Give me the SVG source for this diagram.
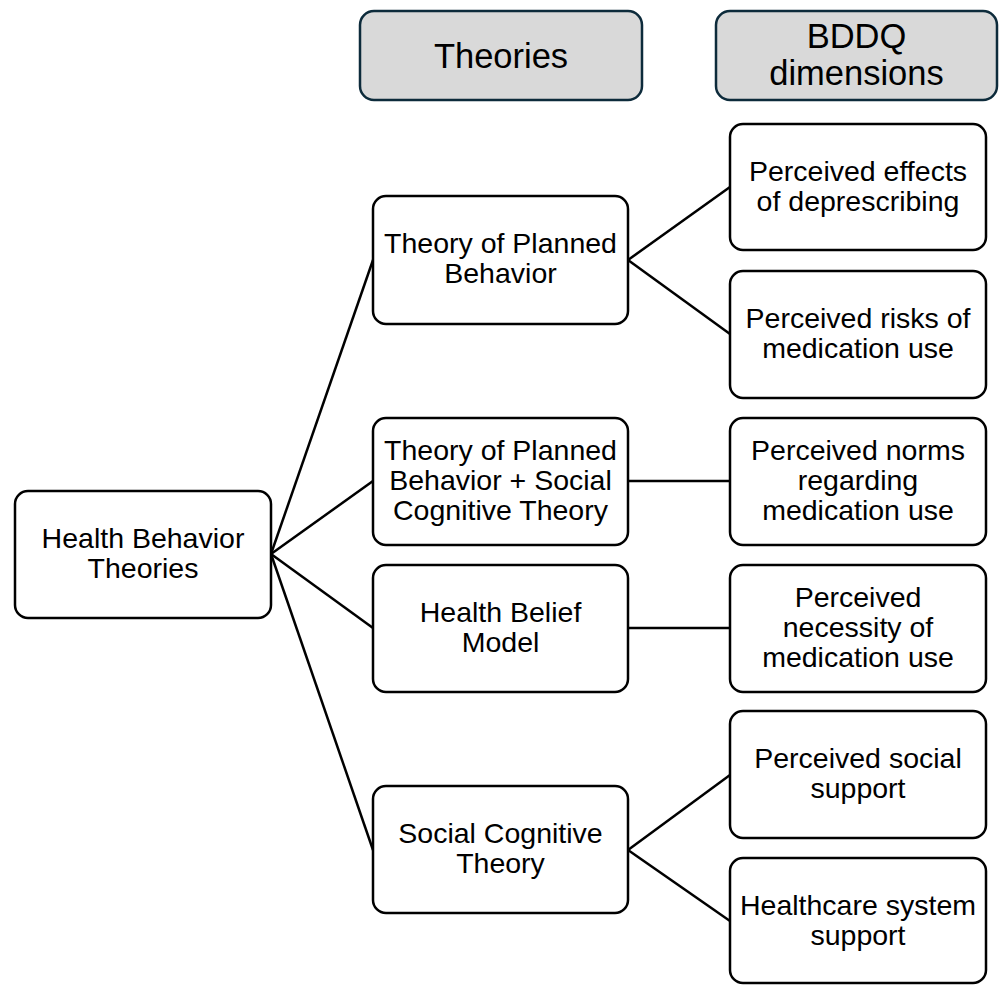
<svg xmlns="http://www.w3.org/2000/svg" width="1000" height="985" viewBox="0 0 1000 985">
<style>
.box{fill:#ffffff;stroke:#000000;stroke-width:2.5}
.hdr{fill:#d9d9d9;stroke:#0d2b3b;stroke-width:2.5}
.t{font-family:"Liberation Sans",Arial,sans-serif;font-size:28.5px;fill:#000000;text-anchor:middle}
.h{font-family:"Liberation Sans",Arial,sans-serif;font-size:34.5px;fill:#000000;text-anchor:middle}
.c{stroke:#000000;stroke-width:2.5;fill:none}
</style>
<rect width="1000" height="985" fill="#ffffff"/>
<g id="connectors">
<line class="c" x1="271" y1="554" x2="373" y2="260"/>
<line class="c" x1="271" y1="554" x2="373" y2="481"/>
<line class="c" x1="271" y1="554" x2="373" y2="628"/>
<line class="c" x1="271" y1="554" x2="373" y2="850"/>
<line class="c" x1="628" y1="260" x2="730" y2="187"/>
<line class="c" x1="628" y1="260" x2="730" y2="334"/>
<line class="c" x1="628" y1="481" x2="730" y2="481"/>
<line class="c" x1="628" y1="628" x2="730" y2="628"/>
<line class="c" x1="628" y1="850" x2="730" y2="775"/>
<line class="c" x1="628" y1="850" x2="730" y2="921"/>
</g>
<g id="header-theories">
<rect class="hdr" x="360" y="11" width="282" height="89" rx="14"/>
<text class="h" x="501" y="68">Theories</text>
</g>
<g id="header-bddq">
<rect class="hdr" x="716" y="11" width="281" height="89" rx="14"/>
<text class="h" x="856.5" y="48">BDDQ</text>
<text class="h" x="856.5" y="85">dimensions</text>
</g>
<g id="hbt">
<rect class="box" x="15" y="491" width="256" height="127" rx="13"/>
<text class="t" x="143" y="548">Health Behavior</text>
<text class="t" x="143" y="578">Theories</text>
</g>
<g id="tpb">
<rect class="box" x="373" y="196" width="255" height="128" rx="13"/>
<text class="t" x="500.5" y="253">Theory of Planned</text>
<text class="t" x="500.5" y="283">Behavior</text>
</g>
<g id="tpb-sct">
<rect class="box" x="373" y="418" width="255" height="127" rx="13"/>
<text class="t" x="500.5" y="460">Theory of Planned</text>
<text class="t" x="500.5" y="490">Behavior + Social</text>
<text class="t" x="500.5" y="520">Cognitive Theory</text>
</g>
<g id="hbm">
<rect class="box" x="373" y="565" width="255" height="127" rx="13"/>
<text class="t" x="500.5" y="622">Health Belief</text>
<text class="t" x="500.5" y="652">Model</text>
</g>
<g id="sct">
<rect class="box" x="373" y="786" width="255" height="127" rx="13"/>
<text class="t" x="500.5" y="843">Social Cognitive</text>
<text class="t" x="500.5" y="873">Theory</text>
</g>
<g id="effects">
<rect class="box" x="730" y="124" width="256" height="126" rx="13"/>
<text class="t" x="858" y="181">Perceived effects</text>
<text class="t" x="858" y="211">of deprescribing</text>
</g>
<g id="risks">
<rect class="box" x="730" y="271" width="256" height="127" rx="13"/>
<text class="t" x="858" y="328">Perceived risks of</text>
<text class="t" x="858" y="358">medication use</text>
</g>
<g id="norms">
<rect class="box" x="730" y="418" width="256" height="127" rx="13"/>
<text class="t" x="858" y="460">Perceived norms</text>
<text class="t" x="858" y="490">regarding</text>
<text class="t" x="858" y="520">medication use</text>
</g>
<g id="necessity">
<rect class="box" x="730" y="565" width="256" height="127" rx="13"/>
<text class="t" x="858" y="607">Perceived</text>
<text class="t" x="858" y="637">necessity of</text>
<text class="t" x="858" y="667">medication use</text>
</g>
<g id="social">
<rect class="box" x="730" y="711" width="256" height="127" rx="13"/>
<text class="t" x="858" y="768">Perceived social</text>
<text class="t" x="858" y="798">support</text>
</g>
<g id="healthcare">
<rect class="box" x="730" y="858" width="256" height="125" rx="13"/>
<text class="t" x="858" y="915">Healthcare system</text>
<text class="t" x="858" y="945">support</text>
</g>
</svg>
